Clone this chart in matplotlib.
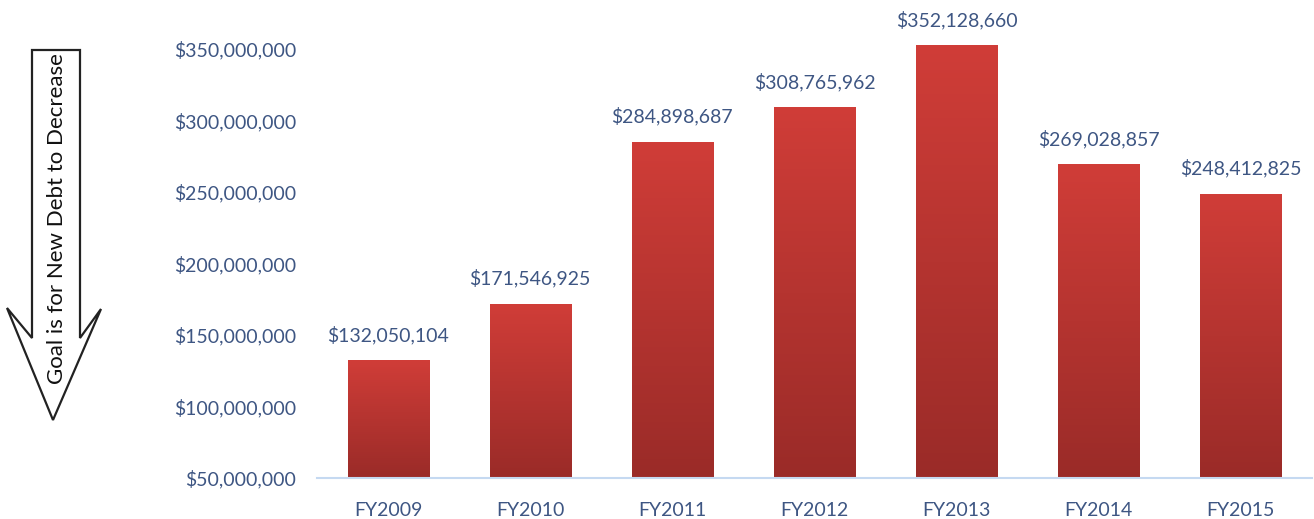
import matplotlib
matplotlib.use("Agg")
import matplotlib.pyplot as plt
import numpy as np
from matplotlib.patches import Polygon
from matplotlib.colors import LinearSegmentedColormap
from matplotlib.ticker import FuncFormatter

categories = ["FY2009", "FY2010", "FY2011", "FY2012", "FY2013", "FY2014", "FY2015"]
values = [132050104, 171546925, 284898687, 308765962, 352128660, 269028857, 248412825]
yticks = [50000000, 100000000, 150000000, 200000000, 250000000, 300000000, 350000000]
arrow_text = "Goal is for New Debt to Decrease"

W, H = 1314, 519
fig = plt.figure(figsize=(W / 100, H / 100), dpi=100)
plt.rcParams['font.family'] = ['Lato', 'DejaVu Sans']

text_col = '#3E5683'
ax = fig.add_axes([317 / W, (H - 478) / H, (1312 - 317) / W, (478 - 49) / H])
x = np.arange(len(categories))
bars = ax.bar(x, values, width=0.57, color='none', edgecolor='none', zorder=2)

cmap = LinearSegmentedColormap.from_list('g', ['#9A2B28', '#D03D38'])
grad = np.linspace(0, 1, 256).reshape(-1, 1)
for b, v in zip(bars, values):
    x0 = b.get_x()
    w = b.get_width()
    im = ax.imshow(grad, cmap=cmap, origin='lower', aspect='auto',
                   extent=[x0, x0 + w, yticks[0], v], zorder=2, clip_on=False)
    im.set_clip_path(b)
    b.set_clip_on(False)
    ax.annotate(f"${v:,.0f}", (b.get_x() + w / 2, v), xytext=(0, 12),
                textcoords='offset points', ha='center', va='bottom',
                fontsize=14, color=text_col, annotation_clip=False)
ax.set_xlim(-0.5, len(categories) - 0.5)
ax.set_ylim(yticks[0], yticks[-1])

ax.set_yticks(yticks)
ax.yaxis.set_major_formatter(FuncFormatter(lambda v, p: f"${v:,.0f}"))
ax.set_xticks(x)
ax.set_xticklabels(categories)
ax.tick_params(axis='both', length=0, labelsize=14, labelcolor=text_col)
ax.tick_params(axis='y', pad=15)
ax.tick_params(axis='x', pad=17)
for s in ['top', 'right', 'left']:
    ax.spines[s].set_visible(False)
ax.spines['bottom'].set_color('#C5D9F1')
ax.spines['bottom'].set_linewidth(1.5)
ax.patch.set_alpha(0)

# arrow annotation
oax = fig.add_axes([0, 0, 1, 1], zorder=-1)
oax.set_xlim(0, W)
oax.set_ylim(H, 0)
oax.axis('off')
pts = [(32, 50), (80, 50), (80, 338), (101, 309), (53, 420), (7, 308), (32, 338)]
oax.add_patch(Polygon(pts, closed=True, facecolor='white', edgecolor='#222222', linewidth=1.6))
oax.text(57, 219, arrow_text, rotation=90, ha='center', va='center',
         fontsize=16, color='#111111')

fig.savefig("out.png", dpi=100)
